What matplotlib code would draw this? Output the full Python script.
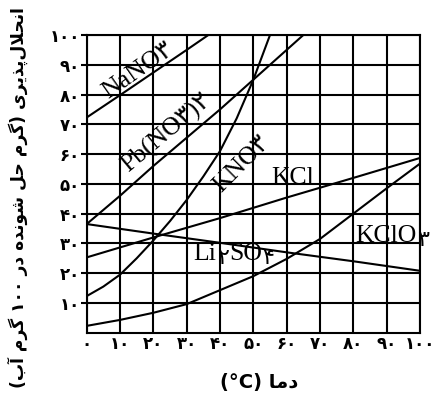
import re
import matplotlib
matplotlib.use("Agg")
import matplotlib.pyplot as plt

# solubility data (g solute / 100 g water)
nano3_t = [0, 10, 20, 30, 36.5]
nano3_s = [72.3, 79.8, 87.4, 95, 100]

pb_t = [0, 10, 20, 30, 40, 50, 60, 65]
pb_s = [36.5, 46, 56, 65.5, 75, 85, 95, 100]

kno3_t = [0, 5, 10, 15, 20, 25, 30, 35, 40, 45, 50, 55]
kno3_s = [12.3, 15.5, 19.5, 25, 31, 37.5, 44.6, 52.5, 61, 72, 85, 100]

kcl_t = [0, 20, 40, 60, 80, 100]
kcl_s = [25.3, 32, 38.5, 45.4, 52, 58.7]

li_t = [0, 20, 40, 60, 80, 100]
li_s = [36.5, 33.3, 30.2, 27, 24, 20.8]

kclo3_t = [0, 10, 20, 30, 40, 50, 60, 70, 80, 90, 100]
kclo3_s = [2.3, 4.3, 6.7, 9.6, 14.3, 19, 24.8, 31.5, 40, 48.5, 56.8]

x_ticks = [0, 10, 20, 30, 40, 50, 60, 70, 80, 90, 100]
y_ticks = [10, 20, 30, 40, 50, 60, 70, 80, 90, 100]

# --- tiny persian shaper (no arabic_reshaper available) ---
FORMS = {
    'ا': ('\uFE8D', '\uFE8E'),
    'آ': ('\uFE81', '\uFE82'),
    'د': ('\uFEA9', '\uFEAA'),
    'ذ': ('\uFEAB', '\uFEAC'),
    'ر': ('\uFEAD', '\uFEAE'),
    'و': ('\uFEED', '\uFEEE'),
    'ب': ('\uFE8F', '\uFE90', '\uFE91', '\uFE92'),
    'پ': ('\uFB56', '\uFB57', '\uFB58', '\uFB59'),
    'ح': ('\uFEA1', '\uFEA2', '\uFEA3', '\uFEA4'),
    'ش': ('\uFEB5', '\uFEB6', '\uFEB7', '\uFEB8'),
    'ل': ('\uFEDD', '\uFEDE', '\uFEDF', '\uFEE0'),
    'م': ('\uFEE1', '\uFEE2', '\uFEE3', '\uFEE4'),
    'ن': ('\uFEE5', '\uFEE6', '\uFEE7', '\uFEE8'),
    'ه': ('\uFEE9', '\uFEEA', '\uFEEB', '\uFEEC'),
    'ی': ('\uFBFC', '\uFBFD', '\uFBFE', '\uFBFF'),
    'گ': ('\uFB92', '\uFB93', '\uFB94', '\uFB95'),
}


def dual(c):
    return c in FORMS and len(FORMS[c]) == 4


def farsi(text):
    out = []
    i = 0
    n = len(text)
    while i < n:
        c = text[i]
        if c not in FORMS:
            out.append(c)
            i += 1
            continue
        joined_prev = i > 0 and dual(text[i - 1])
        if c == 'ل' and i + 1 < n and text[i + 1] == 'ا':
            out.append('\uFEFC' if joined_prev else '\uFEFB')
            i += 2
            continue
        nxt = text[i + 1] if i + 1 < n else ''
        joined_next = dual(c) and nxt in FORMS
        f = FORMS[c]
        if joined_prev and joined_next:
            out.append(f[3])
        elif joined_prev:
            out.append(f[1])
        elif joined_next:
            out.append(f[2])
        else:
            out.append(f[0])
        i += 1
    s = ''.join(out)[::-1]
    s = s.translate(str.maketrans('()', ')('))
    return re.sub(r'[0-9A-Za-z°\u06F0-\u06F9]+', lambda m: m.group(0)[::-1], s)


def fa(n):
    return str(n).translate(str.maketrans('0123456789', '۰۱۲۳۴۵۶۷۸۹'))


fig = plt.figure(figsize=(4.35, 3.96), dpi=100)
ax = fig.add_axes([0.1993, 0.1598, 0.7662, 0.7518])

lw = 1.5
for t, s in [(nano3_t, nano3_s), (pb_t, pb_s), (kno3_t, kno3_s),
             (kcl_t, kcl_s), (li_t, li_s), (kclo3_t, kclo3_s)]:
    ax.plot(t, s, color='black', lw=lw)

ax.set_xlim(0, 100)
ax.set_ylim(0, 100)
ax.set_xticks(x_ticks)
ax.set_yticks(y_ticks)
ax.set_xticklabels([fa(v) for v in x_ticks], fontsize=12, fontweight='bold')
ax.set_yticklabels([fa(v) for v in y_ticks], fontsize=12, fontweight='bold')
ax.tick_params(axis='x', length=0, pad=2)
ax.tick_params(axis='y', length=4, width=lw, pad=1)
ax.grid(True, color='black', lw=lw)
for sp in ax.spines.values():
    sp.set_linewidth(lw)

serif = ['Liberation Serif', 'DejaVu Sans']
fs = 18.5
fs_sub = 16


def chem(x, y, parts):
    # horizontal formula; parts alternate normal text / persian subscript
    first = ax.text(x, y, parts[0], ha='left', va='baseline', fontsize=fs, family=serif)
    prev = first
    for k, p in enumerate(parts[1:]):
        sub = k % 2 == 0
        prev = ax.annotate(p, xy=(1, 0), xycoords=(prev, first),
                           xytext=(0.3, -3 if sub else 0), textcoords='offset points',
                           ha='left', va='bottom', family=serif,
                           fontsize=fs_sub if sub else fs)


ax.text(15.5, 88, 'NaNO۳', rotation=35, ha='center', va='center',
        fontsize=fs, family=serif, rotation_mode='anchor')
ax.text(24, 67, 'Pb(NO۳)۲', rotation=40, ha='center', va='center',
        fontsize=fs, family=serif, rotation_mode='anchor')
ax.text(46.5, 56.6, 'KNO۳', rotation=45, ha='center', va='center',
        fontsize=fs, family=serif, rotation_mode='anchor')
ax.text(55.5, 50, 'KCl', ha='left', va='baseline', fontsize=fs, family=serif)
chem(80.5, 30.5, ['KClO', '۳'])
chem(32, 24.5, ['Li', '۲', 'SO', '۴'])

fig.text(0.042, 0.5, farsi('انحلال\u200cپذیری (گرم حل شونده در ۱۰۰ گرم آب)'),
         rotation=90, ha='center', va='center', fontsize=12.3, fontweight='bold')
fig.text(0.595, 0.035, farsi('دما (°C)'), ha='center', va='center',
         fontsize=14, fontweight='bold')

fig.savefig('out.png', dpi=100)
